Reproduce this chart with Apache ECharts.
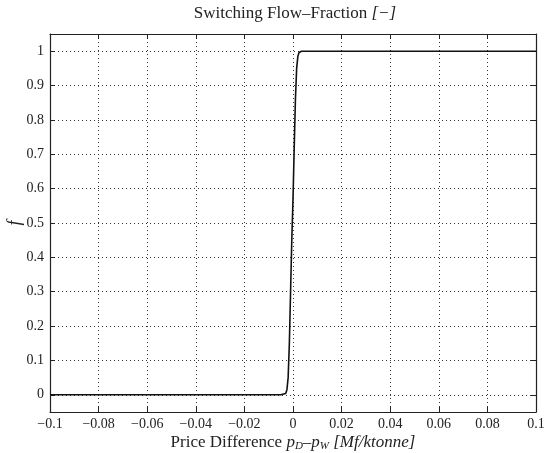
<!DOCTYPE html>
<html>
<head>
<meta charset="utf-8">
<script src="https://cdn.jsdelivr.net/npm/echarts@6/dist/echarts.min.js"></script>
<style>
  html, body { margin: 0; padding: 0; background: #fff; }
  #chart { width: 545px; height: 453px; }
</style>
</head>
<body>
<div id="chart"></div>
<script>
// tick labels
const xTicks = [-0.1, -0.08, -0.06, -0.04, -0.02, 0, 0.02, 0.04, 0.06, 0.08, 0.1];
const xTickLabels = ['\u22120.1', '\u22120.08', '\u22120.06', '\u22120.04', '\u22120.02', '0', '0.02', '0.04', '0.06', '0.08', '0.1'];
const yTicks = [0, 0.1, 0.2, 0.3, 0.4, 0.5, 0.6, 0.7, 0.8, 0.9, 1];
const yTickLabels = ['0', '0.1', '0.2', '0.3', '0.4', '0.5', '0.6', '0.7', '0.8', '0.9', '1'];

// switching flow-fraction curve
const priceDiff = [-0.1, -0.02, -0.005, -0.003, -0.0025, -0.002, -0.0015, -0.001, -0.0005, 0, 0.0005, 0.001, 0.0015, 0.002, 0.0025, 0.0035, 0.1];
const flowFraction = [0, 0, 0, 0.004, 0.015, 0.05, 0.15, 0.3, 0.45, 0.57, 0.72, 0.86, 0.95, 0.985, 0.996, 1, 1];

const chart = echarts.init(document.getElementById('chart'), null, { renderer: 'canvas' });

const FONT = 'Liberation Serif';

const fmt = (ticks, labels) => (v) => {
  const i = ticks.findIndex(t => Math.abs(t - v) < 1e-9);
  return i >= 0 ? labels[i] : '';
};

const gridLine = { show: true, lineStyle: { color: '#333', type: [1, 3], width: 1 } };
const frame = { show: true, onZero: false, lineStyle: { color: '#222', width: 1.2 } };
const tick = { show: true, inside: true, length: 5, lineStyle: { color: '#222', width: 1 } };

const option = {
  animation: false,
  backgroundColor: '#fff',
  title: {
    text: 'Switching Flow\u2013Fraction {i|[\u2212]}',
    left: 290,
    top: 0,
    textAlign: 'center',
    textStyle: {
      fontFamily: FONT,
      fontSize: 17,
      fontWeight: 'normal',
      color: '#222',
      rich: { i: { fontFamily: FONT, fontSize: 17, fontStyle: 'italic', color: '#222' } }
    }
  },
  grid: { left: 50, right: 9, top: 34, bottom: 41, containLabel: false, outerBoundsMode: 'none' },
  xAxis: [
    {
      type: 'value',
      min: -0.1, max: 0.1, interval: 0.02,
      position: 'bottom',
      axisLine: frame,
      axisTick: tick,
      splitLine: gridLine,
      axisLabel: {
        formatter: fmt(xTicks, xTickLabels),
        fontFamily: FONT, fontSize: 14, color: '#222', margin: 5
      },
      name: 'Price Difference {i|p}{s|D}\u2013{i|p}{s|W} {i|[Mf/ktonne]}',
      nameLocation: 'middle',
      nameGap: 22,
      nameMoveOverlap: false,
      nameTextStyle: {
        fontFamily: FONT, fontSize: 17, color: '#222',
        rich: {
          i: { fontFamily: FONT, fontSize: 17, fontStyle: 'italic', color: '#222' },
          s: { fontFamily: FONT, fontSize: 11, fontStyle: 'italic', color: '#222', verticalAlign: 'bottom', padding: [7, 0, 0, 0] }
        }
      }
    },
    {
      type: 'value',
      min: -0.1, max: 0.1, interval: 0.02,
      position: 'top',
      axisLine: frame,
      axisTick: tick,
      axisLabel: { show: false },
      splitLine: { show: false }
    }
  ],
  yAxis: [
    {
      type: 'value',
      min: -0.05, max: 1.05,
      position: 'left',
      axisLine: frame,
      axisTick: Object.assign({ customValues: yTicks }, tick),
      splitLine: gridLine,
      axisLabel: {
        customValues: yTicks,
        formatter: fmt(yTicks, yTickLabels),
        fontFamily: FONT, fontSize: 14, color: '#222', margin: 6
      },
      name: 'f',
      nameLocation: 'middle',
      nameGap: 26,
      nameRotate: 90,
      nameMoveOverlap: false,
      nameTextStyle: { fontFamily: FONT, fontSize: 18, fontStyle: 'italic', color: '#222' }
    },
    {
      type: 'value',
      min: -0.05, max: 1.05,
      position: 'right',
      axisLine: frame,
      axisTick: Object.assign({ customValues: yTicks }, tick),
      axisLabel: { show: false, customValues: yTicks },
      splitLine: { show: false }
    }
  ],
  series: [
    {
      type: 'line',
      xAxisIndex: 0,
      yAxisIndex: 0,
      data: priceDiff.map((x, i) => [x, flowFraction[i]]),
      showSymbol: false,
      smooth: false,
      lineStyle: { color: '#111', width: 1.6 }
    }
  ]
};

chart.setOption(option);
</script>
</body>
</html>
